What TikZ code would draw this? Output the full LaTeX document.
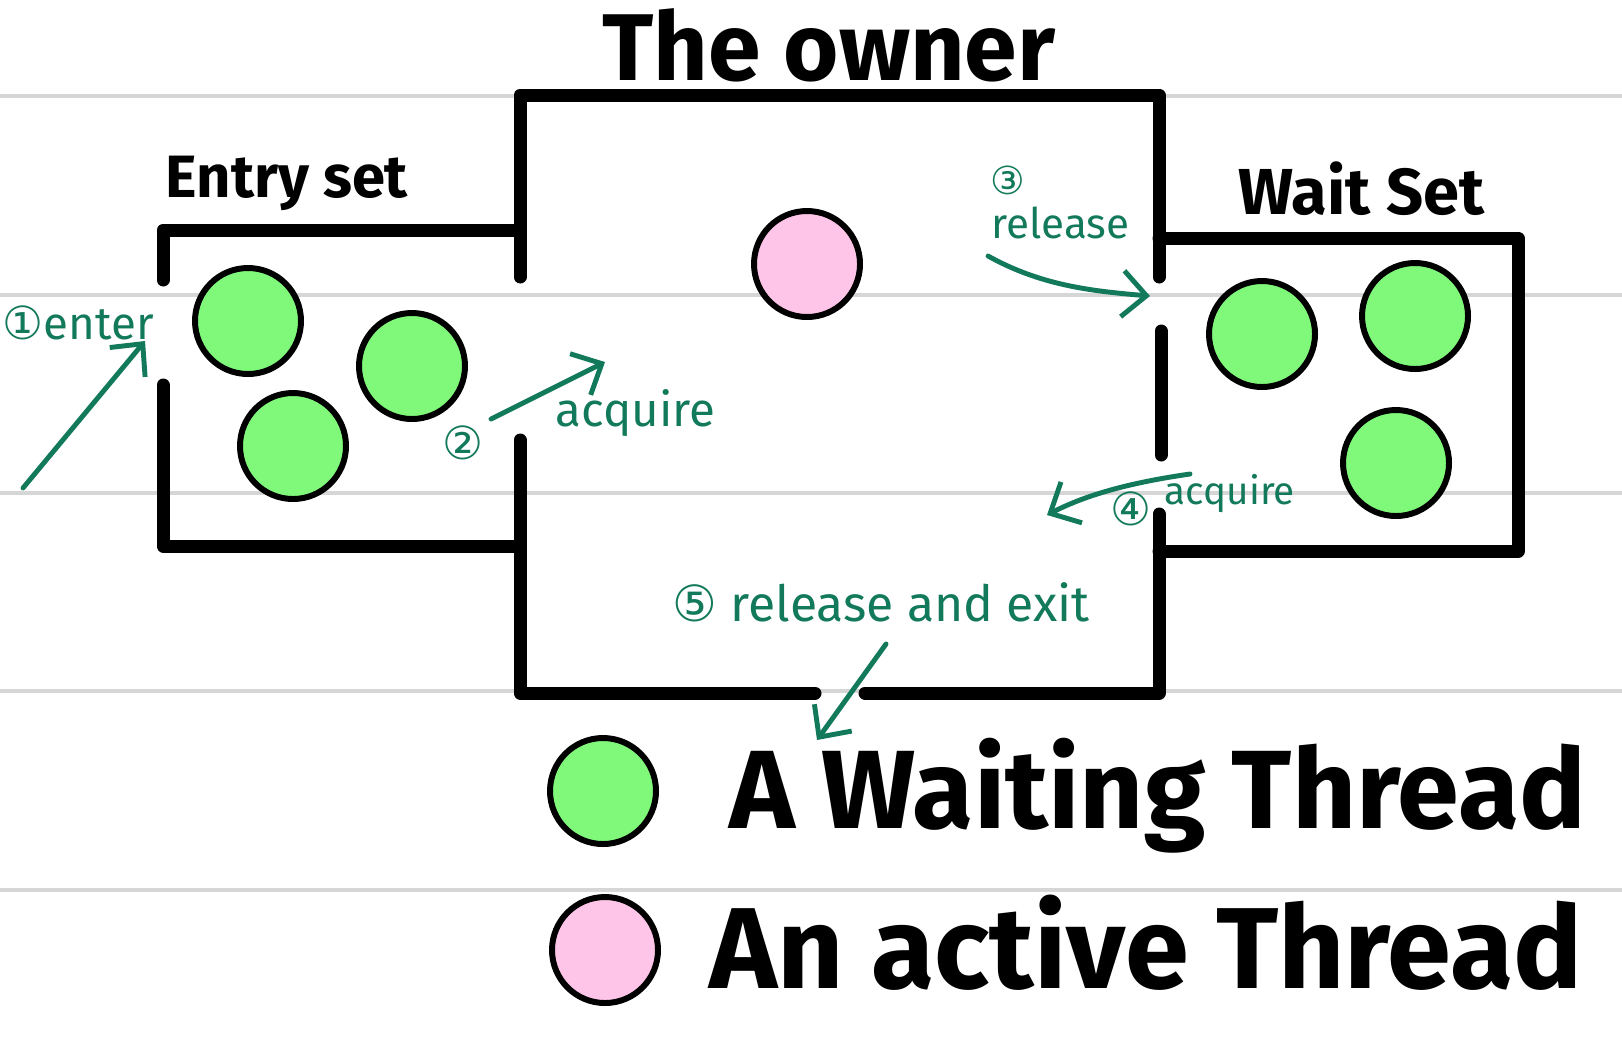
\documentclass[tikz,border=0pt]{standalone}
\usepackage{fontspec}
\setmainfont{Fira Sans}
\newfontfamily\circfont{DejaVu Sans}
\usepackage{tikz}
\usetikzlibrary{positioning,arrows.meta}
\definecolor{thrGreen}{HTML}{80F97B}
\definecolor{thrPink}{HTML}{FFC5E9}
\definecolor{noteGreen}{HTML}{127A5B}
\definecolor{ruleGray}{HTML}{D6D6D6}
\newcommand{\stepno}[1]{{\circfont #1}}
\newcommand{\fsz}[1]{\fontsize{#1}{\dimexpr #1*6/5\relax}\selectfont}
\tikzset{
  ruled/.style={draw=ruleGray,line width=0.9pt},
  wall/.style={draw=black,line width=3.7pt,line cap=round,line join=round},
  waiting/.style={circle,draw=black,line width=1.7pt,fill=thrGreen,
    minimum size=1.06cm,inner sep=0pt},
  active/.style={circle,draw=black,line width=1.7pt,fill=thrPink,
    minimum size=1.06cm,inner sep=0pt},
  biglabel/.style={inner sep=0pt,font=\bfseries,text=black},
  note/.style={inner sep=0pt,text=noteGreen,font=\fsz{13pt}},
  notearrow/.style={-{Straight Barb[length=2.4mm,width=4.6mm]},
    line width=1.4pt,line cap=round,draw=noteGreen}
}
\begin{document}
\begin{tikzpicture}[x=0.1mm,y=-0.1mm]
  \useasboundingbox (0,0) rectangle (1622,1049);
  \fill[white] (0,0) rectangle (1622,1049);
  % ruled paper
  \foreach \yy in {96,295,493,691,890} \draw[ruled] (0,\yy) -- (1622,\yy);

  % the owner room
  \draw[wall] (520,277) -- (520,95) -- (1159,95) -- (1159,277);
  \draw[wall] (520,440) -- (520,693) -- (815,693);
  \draw[wall] (865,693) -- (1159,693) -- (1159,514);
  \draw[wall] (1161,331) -- (1161,455);
  % entry set room
  \draw[wall] (163,280) -- (163,230) -- (520,230);
  \draw[wall] (163,385) -- (163,546) -- (520,546);
  % wait set room
  \draw[wall] (1159,238) -- (1518,238) -- (1518,551) -- (1159,551);

  % threads
  \node[waiting] (entryA) at (248,321) {};
  \node[waiting] (entryB) at (412,366) {};
  \node[waiting] (entryC) at (293,446) {};
  \node[active] (owner) at (807,264) {};
  \node[waiting] (waitA) at (1262,334) {};
  \node[waiting] (waitB) at (1415,316) {};
  \node[waiting] (waitC) at (1396,463) {};

  % titles
  \node[biglabel, font=\bfseries\fsz{27pt}, anchor=base] (ownertitle) at (829,80) {The owner};
  \node[biglabel, font=\bfseries\fsz{17pt}, anchor=base west] (entrytitle) at (165,197) {Entry set};
  \node[biglabel, font=\bfseries\fsz{18.5pt}, anchor=base west] (waittitle) at (1238,214) {Wait Set};

  % steps
  \node[note, anchor=base west] (enterlbl) at (2,339) {\stepno{①}enter};
  \node[note] (acqno) at (463,443) {\stepno{②}};
  \node[note, anchor=base west, font=\fsz{13.5pt}] (acqlbl) at (555,426) {acquire};
  \node[note, font=\fsz{11pt}] (relno) at (1008,180) {\stepno{③}};
  \node[note, anchor=base west, font=\fsz{12pt}] (rellbl) at (991,238) {release};
  \node[note] (reacqno) at (1131,509) {\stepno{④}};
  \node[note, anchor=base west, font=\fsz{11pt}] (reacqlbl) at (1164,504) {acquire};
  \node[note, anchor=base west, font=\fsz{14.2pt}] (exitlbl) at (672,621) {\stepno{⑤} release and exit};

  \coordinate (enterfrom) at (23,488);
  \coordinate (enterto) at (145,341);
  \coordinate (acqfrom) at (491,419);
  \coordinate (acqto) at (605,362);
  \coordinate (relfrom) at (988,256);
  \coordinate (relto) at (1150,296);
  \coordinate (reacqfrom) at (1190,474);
  \coordinate (reacqto) at (1047,515);
  \coordinate (exitfrom) at (886,644);
  \coordinate (exitto) at (817,740);

  \draw[notearrow] (enterfrom) -- (enterto);
  \draw[notearrow] (acqfrom) -- (acqto);
  \draw[notearrow] (relfrom) .. controls (1040,285) and (1090,291) .. (relto);
  \draw[notearrow] (reacqfrom) .. controls (1120,484) and (1080,498) .. (reacqto);
  \draw[notearrow] (exitfrom) -- (exitto);

  % legend
  \node[waiting] (keywait) at (603,791) {};
  \node[active] (keyactive) at (605,950) {};
  \node[biglabel, font=\bfseries\fsz{31.7pt}, anchor=base west] (keywaitlbl) at (729,828) {A Waiting Thread};
  \node[biglabel, font=\bfseries\fsz{32.8pt}, anchor=base west] (keyactivelbl) at (709,988) {An active Thread};
\end{tikzpicture}
\end{document}
